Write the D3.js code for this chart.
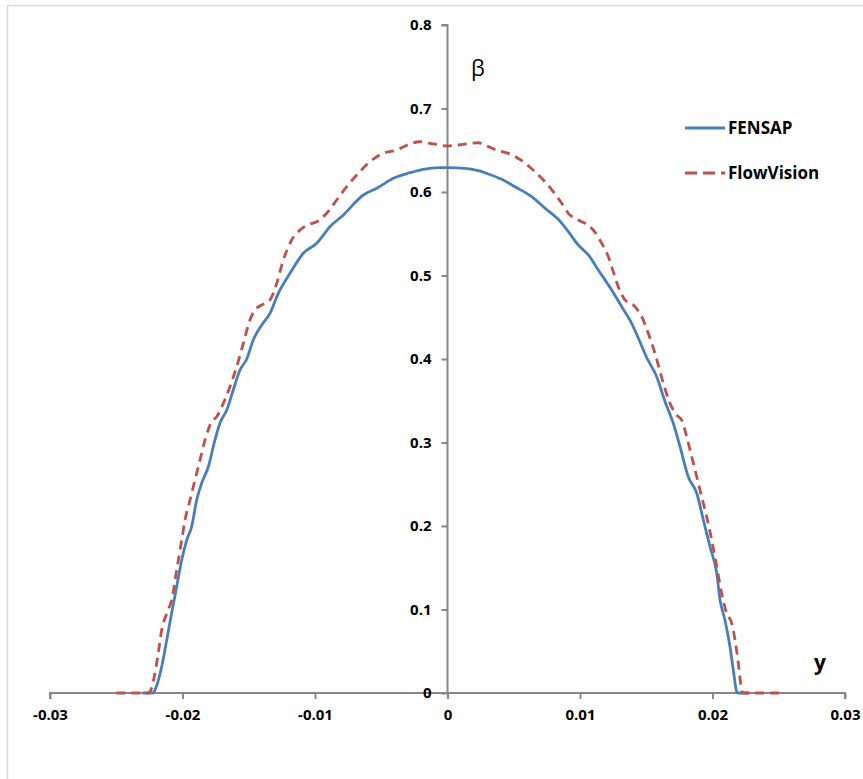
<!DOCTYPE html>
<html>
<head>
<meta charset="utf-8">
<script src="https://cdn.jsdelivr.net/npm/d3@7"></script>
<style>
  html, body { margin: 0; padding: 0; background: #fff; }
  svg { display: block; }
  .tick-label { font-family: "Open Sans", sans-serif; font-weight: 700; font-size: 15px; fill: #000; }
</style>
</head>
<body>
<svg id="chart" width="863" height="779"></svg>
<script>
// Droplet collection efficiency β across the span coordinate y
const fensapY = [-0.0230, -0.02223, -0.02208, -0.02157, -0.02119, -0.02082, -0.02044, -0.02006, -0.01968, -0.01931,
  -0.01893, -0.01855, -0.01805, -0.01755, -0.01717, -0.01666, -0.01617, -0.01566, -0.01515, -0.01466,
  -0.01402, -0.01340, -0.01277, -0.01189, -0.01088, -0.00987, -0.00887, -0.00786, -0.00635, -0.00534,
  -0.00409, -0.00283, -0.00183, -0.00057, 0.00006, 0.00132, 0.00232, 0.00308, 0.00409, 0.00509,
  0.00635, 0.00736, 0.00836, 0.00912, 0.00987, 0.01063, 0.01138, 0.01239, 0.01315, 0.01390,
  0.01440, 0.01503, 0.01579, 0.01642, 0.01704, 0.01755, 0.01817, 0.01881, 0.01931, 0.01981,
  0.02032, 0.02057, 0.02094, 0.02132, 0.02157, 0.02183, 0.02190, 0.02280];
const fensapBeta = [0, 0, 0.0036, 0.0315, 0.0635, 0.0958, 0.1273, 0.1593, 0.1832, 0.1992,
  0.2311, 0.2515, 0.2710, 0.3030, 0.3234, 0.3389, 0.3629, 0.3868, 0.4000, 0.4228,
  0.4407, 0.4547, 0.4787, 0.5026, 0.5266, 0.5386, 0.5584, 0.5725, 0.5964, 0.6044,
  0.6164, 0.6231, 0.6272, 0.6291, 0.6291, 0.6284, 0.6255, 0.6216, 0.6152, 0.6063,
  0.5944, 0.5805, 0.5673, 0.5525, 0.5365, 0.5246, 0.5066, 0.4826, 0.4626, 0.4428,
  0.4251, 0.4018, 0.3788, 0.3489, 0.3230, 0.2950, 0.2590, 0.2392, 0.2072, 0.1752,
  0.1434, 0.1114, 0.0874, 0.0554, 0.0275, 0.0012, 0, 0];

const flowY = [-0.0250, -0.02260, -0.02245, -0.02208, -0.02183, -0.02157, -0.02119, -0.02082, -0.02044, -0.02006,
  -0.01981, -0.01943, -0.01906, -0.01868, -0.01830, -0.01780, -0.01742, -0.01692, -0.01642, -0.01591,
  -0.01541, -0.01491, -0.01453, -0.01402, -0.01340, -0.01289, -0.01239, -0.01176, -0.01113, -0.01038,
  -0.00987, -0.00912, -0.00836, -0.00761, -0.00685, -0.00585, -0.00485, -0.00383, -0.00283, -0.00208,
  -0.00107, -0.00006, 0.00082, 0.00232, 0.00308, 0.00383, 0.00459, 0.00560, 0.00660, 0.00736,
  0.00798, 0.00862, 0.00912, 0.00987, 0.01038, 0.01100, 0.01164, 0.01214, 0.01251, 0.01289,
  0.01340, 0.01402, 0.01466, 0.01515, 0.01566, 0.01629, 0.01679, 0.01730, 0.01768, 0.01805,
  0.01843, 0.01881, 0.01918, 0.01956, 0.01994, 0.02032, 0.02069, 0.02107, 0.02145, 0.02170,
  0.02195, 0.02220, 0.02230, 0.02520];
const flowBeta = [0, 0, 0.0016, 0.0236, 0.0475, 0.0754, 0.0954, 0.1114, 0.1473, 0.1832,
  0.2072, 0.2311, 0.2551, 0.2790, 0.3030, 0.3249, 0.3309, 0.3469, 0.3668, 0.3908,
  0.4188, 0.4467, 0.4587, 0.4647, 0.4707, 0.4907, 0.5186, 0.5425, 0.5545, 0.5617,
  0.5644, 0.5745, 0.5904, 0.6064, 0.6204, 0.6363, 0.6463, 0.6503, 0.6575, 0.6602,
  0.6575, 0.6551, 0.6563, 0.6590, 0.6543, 0.6495, 0.6463, 0.6375, 0.6243, 0.6123,
  0.6004, 0.5865, 0.5745, 0.5665, 0.5625, 0.5545, 0.5386, 0.5225, 0.5046, 0.4866,
  0.4707, 0.4647, 0.4507, 0.4308, 0.4068, 0.3709, 0.3469, 0.3329, 0.3269, 0.3070,
  0.2830, 0.2590, 0.2351, 0.2111, 0.1832, 0.1513, 0.1194, 0.0954, 0.0835, 0.0635,
  0.0356, 0.0036, 0, 0];

const xTicks = [-0.03, -0.02, -0.01, 0, 0.01, 0.02, 0.03];
const xTickLabels = ["-0.03", "-0.02", "-0.01", "0", "0.01", "0.02", "0.03"];
const yTicks = [0, 0.1, 0.2, 0.3, 0.4, 0.5, 0.6, 0.7, 0.8];
const yTickLabels = ["0", "0.1", "0.2", "0.3", "0.4", "0.5", "0.6", "0.7", "0.8"];

const seriesNames = ["FENSAP", "FlowVision"];
const seriesColors = ["#4A7EBB", "#C0504D"];

const svg = d3.select("#chart");

// outer chart frame
svg.append("rect")
  .attr("x", 7.5).attr("y", 5.5)
  .attr("width", 900).attr("height", 800)
  .attr("fill", "#fff")
  .attr("stroke", "#d9d9d9").attr("stroke-width", 1.5);

const x = d3.scaleLinear().domain([-0.03, 0.03]).range([50, 845]);
const y = d3.scaleLinear().domain([0, 0.8]).range([693, 25]);

const axisColor = "#878787";

// horizontal axis crossing at β = 0
const gx = svg.append("g").attr("transform", `translate(0,${y(0)})`)
  .call(d3.axisBottom(x).tickValues(xTicks).tickSize(6).tickPadding(8)
    .tickFormat((d, i) => xTickLabels[i]));
gx.select(".domain").attr("stroke", axisColor).attr("stroke-width", 2);
gx.selectAll(".tick line").attr("stroke", axisColor).attr("stroke-width", 2);
gx.selectAll(".tick text").attr("class", "tick-label").attr("dy", "0.85em");

// vertical axis crossing at y = 0
const gy = svg.append("g").attr("transform", `translate(${x(0)},0)`)
  .call(d3.axisLeft(y).tickValues(yTicks).tickSize(6).tickPadding(10)
    .tickFormat((d, i) => yTickLabels[i]));
gy.select(".domain").attr("stroke", axisColor).attr("stroke-width", 2);
gy.selectAll(".tick line").attr("stroke", axisColor).attr("stroke-width", 2);
gy.selectAll(".tick text").attr("class", "tick-label");
gx.selectAll(".domain").attr("d", `M${x(-0.03)},6V0H${x(0.03)}V6`);
gy.selectAll(".domain").attr("d", `M-6,${y(0.8)}H0V${y(0)}`);

const line = d3.line()
  .x(d => x(d[0]))
  .y(d => y(d[1]))
  .curve(d3.curveMonotoneX);

const fensap = fensapY.map((v, i) => [v, fensapBeta[i]]);
const flow = flowY.map((v, i) => [v, flowBeta[i]]);

svg.append("path").datum(fensap)
  .attr("d", line)
  .attr("fill", "none")
  .attr("stroke", seriesColors[0])
  .attr("stroke-width", 2.8)
  .attr("stroke-linejoin", "round");

svg.append("path").datum(flow)
  .attr("d", line)
  .attr("fill", "none")
  .attr("stroke", seriesColors[1])
  .attr("stroke-width", 2.8)
  .attr("stroke-dasharray", "9,6");

// axis titles
svg.append("text").attr("x", 478).attr("y", 76)
  .attr("text-anchor", "middle")
  .attr("font-family", "'Open Sans', sans-serif").attr("font-size", 22)
  .text("β");
svg.append("text").attr("x", 820).attr("y", 670)
  .attr("text-anchor", "middle")
  .attr("font-family", "'Open Sans', sans-serif").attr("font-weight", 700).attr("font-size", 21)
  .text("y");

// legend
const legend = svg.append("g");
seriesNames.forEach((name, i) => {
  const ly = 128 + i * 45;
  legend.append("line")
    .attr("x1", 685).attr("x2", 725).attr("y1", ly).attr("y2", ly)
    .attr("stroke", seriesColors[i]).attr("stroke-width", 2.8)
    .attr("stroke-dasharray", i === 1 ? "12,6" : null);
  legend.append("text")
    .attr("x", 728).attr("y", ly).attr("dy", "0.35em")
    .attr("font-family", "'Open Sans', sans-serif").attr("font-weight", 700).attr("font-size", 17)
    .text(name);
});
</script>
</body>
</html>
